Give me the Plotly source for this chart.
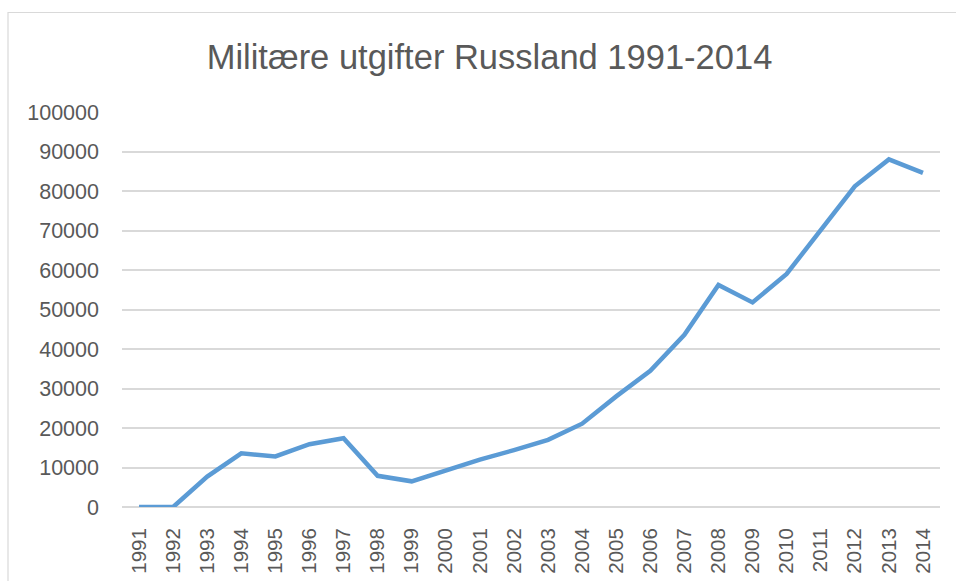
import plotly.graph_objects as go

years = [str(y) for y in range(1991, 2015)]
spending = [0, 0, 7700, 13600, 12800, 15900, 17400, 7900, 6500, 9300, 12000, 14400,
            17000, 21100, 28000, 34500, 43600, 56200, 51800, 59000, 70100, 81200, 88000, 84600]
y_ticks = list(range(0, 100001, 10000))

W, H = 956, 581
L, R, T, B = 122, 16, 112, 74
pw, ph = W - L - R, H - T - B


def px_x(p):
    return (p - L) / pw


def px_y(p):
    return (H - B - p) / ph


fig = go.Figure()
fig.add_trace(go.Scatter(
    x=years, y=spending, mode="lines",
    line=dict(color="#5B9BD5", width=4.5),
    hoverinfo="x+y", showlegend=False,
))

fig.update_layout(
    width=W, height=H,
    margin=dict(l=L, r=R, t=T, b=B),
    paper_bgcolor="white", plot_bgcolor="white",
    title=dict(
        text="Militære utgifter Russland 1991-2014",
        font=dict(family="Liberation Sans", size=34.5, color="#595959"),
        x=489.5 / W, xanchor="center", xref="container",
        y=1 - 57 / H, yanchor="middle", yref="container",
    ),
    font=dict(family="Liberation Sans", color="#595959"),
    xaxis=dict(
        type="category", range=[-0.5, len(years) - 0.5],
        tickangle=-90, tickfont=dict(size=20.5, color="#595959"),
        showgrid=False, showline=False, zeroline=False, ticks="",
        ticklabelstandoff=16, automargin=False,
    ),
    yaxis=dict(
        range=[0, 100000], tickvals=y_ticks, ticktext=[str(v) for v in y_ticks],
        tickfont=dict(size=21.5, color="#595959"),
        showgrid=True, gridcolor="#D9D9D9", gridwidth=1.5,
        zeroline=True, zerolinecolor="#D9D9D9", zerolinewidth=1.5,
        showline=False, ticks="", ticklabelstandoff=22, automargin=False,
    ),
    shapes=[
        dict(type="rect", xref="paper", yref="paper",
             x0=px_x(8), x1=px_x(W + 10), y0=px_y(H + 10), y1=px_y(12.5),
             line=dict(color="#D9D9D9", width=1.2), fillcolor="rgba(0,0,0,0)",
             layer="below"),
    ],
)

fig.write_html(
    "out.html",
    config={"displayModeBar": False},
    post_script="document.body.style.margin='0';document.body.style.overflow='hidden';",
)
